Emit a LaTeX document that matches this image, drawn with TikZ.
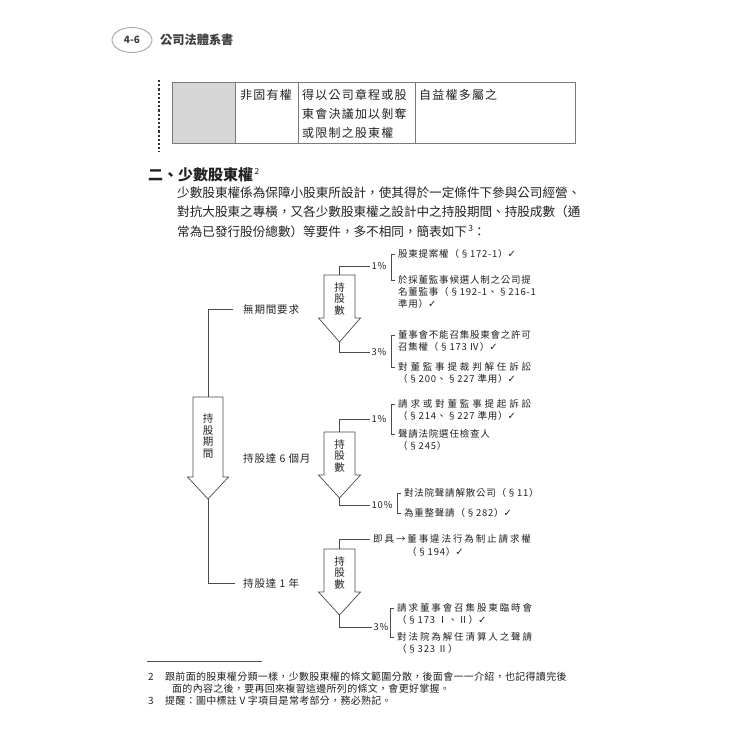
\documentclass[tikz,border=0pt]{standalone}
\usepackage{fontspec}
\setmainfont{Noto Sans CJK TC}
\newfontfamily\symfont{DejaVu Sans}
\newfontfamily\dgfont[LetterSpace=8]{Noto Sans CJK TC}
\newfontfamily\dgmid[LetterSpace=20]{Noto Sans CJK TC}
\newfontfamily\dgwide[LetterSpace=30]{Noto Sans CJK TC}
\newfontfamily\tabfont[LetterSpace=10]{Noto Sans CJK TC}
\newfontfamily\notefont[LetterSpace=3]{Noto Sans CJK TC}
\usepackage{tikz}
\usetikzlibrary{positioning,shapes.geometric}
\definecolor{inkgray}{HTML}{222222}
\definecolor{linegray}{HTML}{4A4A4A}
\definecolor{tablegray}{HTML}{7A7A7A}
\definecolor{cellgray}{HTML}{D6D6D6}
\newcommand{\chk}{{\symfont\fontsize{10}{8}\selectfont ✓}}
\newcommand{\notemark}[1]{\raisebox{0.8ex}{\mdseries\fontsize{8.5}{8.5}\selectfont\,#1}}
\newcommand{\fatarrow}[7]{%
  \draw[fatline] (#2-#6,#3) -- (#2+#6,#3) -- (#2+#6,#4) -- (#2+#7,#4)
    -- (#2,#5) -- (#2-#7,#4) -- (#2-#6,#4) -- cycle;
  \coordinate (#1-top) at (#2,#3);
  \coordinate (#1-tip) at (#2,#5);
}
\newcommand{\itembracket}[2]{%
  \draw[bracketline] ([xshift=-3pt,yshift=-5pt]#1.north west) -- ++(-4pt,0)
    |- ([xshift=-3pt,yshift=-5pt]#2.north west);
}
\tikzset{
  diagtext/.style={inner sep=0pt,text=inkgray,font=\dgfont\fontsize{9.5}{12}\selectfont},
  itembox/.style={diagtext,anchor=north west,align=left},
  periodlabel/.style={diagtext,anchor=west,font=\dgfont\fontsize{10.5}{12}\selectfont},
  pctlabel/.style={diagtext,anchor=west,inner xsep=1.5pt},
  stacktext/.style={diagtext,align=center,font=\dgfont\fontsize{10.5}{11.5}\selectfont},
  fatline/.style={draw=linegray,line width=0.7pt,fill=white},
  connline/.style={draw=linegray,line width=0.6pt},
  bracketline/.style={draw=linegray,line width=0.6pt},
  tabletext/.style={inner sep=0pt,text=inkgray,anchor=north west,align=left,
    font=\tabfont\fontsize{12}{19}\selectfont},
  bodytext/.style={inner sep=0pt,text=inkgray,anchor=north west,align=left,
    font=\fontsize{12.6}{19.5}\selectfont},
  notetext/.style={inner sep=0pt,text=inkgray,anchor=west,
    font=\notefont\fontsize{10}{12}\selectfont}
}
\begin{document}
\begin{tikzpicture}[x=1pt,y=-1pt]
  \fill[white] (0,0) rectangle (750,750);
  \useasboundingbox (0,0) rectangle (750,750);

  \node[draw=black!35,ellipse,line width=0.9pt,minimum width=40pt,minimum height=25pt,
    inner sep=0pt,text=black!75,font=\bfseries\fontsize{10}{10}\selectfont] (pagenum) at (132,40) {4-6};
  \node[anchor=west,inner sep=0pt,text=black!75,font=\bfseries\fontsize{12.2}{14}\selectfont]
    (booktitle) at (160,40) {公司法體系書};

  \draw[black!80,line width=1.6pt,dash pattern=on 2.2pt off 2pt] (159,80) -- (159,152);
  \fill[cellgray] (172,82) rectangle (235,143);
  \draw[tablegray,line width=0.9pt] (172,82) rectangle (575,143);
  \foreach \x in {235,298,415}
    \draw[tablegray,line width=0.9pt] (\x,82) -- (\x,143);
  \node[tabletext] (cellkind) at (240,89) {非固有權};
  \node[tabletext] (cellrule) at (302,89) {得以公司章程或股\\東會決議加以剝奪\\或限制之股東權};
  \node[tabletext] (cellnote) at (419,89) {自益權多屬之};

  \node[anchor=west,inner sep=0pt,text=inkgray,font=\bfseries\fontsize{15}{18}\selectfont]
    (sectitle) at (148,175) {二、少數股東權\notemark{2}};
  \node[bodytext] (intro) at (177,186.5) {少數股東權係為保障小股東所設計，使其得於一定條件下參與公司經營、\\
    對抗大股東之專橫，又各少數股東權之設計中之持股期間、持股成數（通\\
    常為已發行股份總數）等要件，多不相同，簡表如下\notemark{3}：};

  \fatarrow{bigarrow}{208}{397}{477}{499}{15}{20.5}
  \node[stacktext] (period) at (208,436) {持\\股\\期\\間};
  \node[periodlabel] (noreq) at (243,309) {無期間要求};
  \node[periodlabel] (sixmonth) at (243,459) {持股達 6 個月};
  \node[periodlabel] (oneyear) at (243,583) {持股達 1 年};
  \draw[connline] (bigarrow-top) |- ([xshift=-10pt]noreq.west);
  \draw[connline] (bigarrow-tip) |- ([xshift=-8pt]oneyear.west);

  \fatarrow{holda}{339.5}{275}{318}{342}{15.5}{21}
  \node[stacktext] (sharesa) at (339.5,299) {持\\股\\數};
  \node[pctlabel] (a1pct) at (370,266) {1\%};
  \node[pctlabel] (a3pct) at (370,352) {3\%};
  \draw[connline] (holda-top) |- (a1pct.west);
  \draw[connline] (holda-tip) |- (a3pct.west);
  \node[itembox] (a1) at (398,249) {股東提案權（§172-1）\chk};
  \node[itembox] (a2) at (398,275) {於採董監事候選人制之公司提\\名董監事（§192-1、§216-1\\準用）\chk};
  \node[itembox] (a3) at (398,330) {董事會不能召集股東會之許可\\召集權（§173 Ⅳ）\chk};
  \node[itembox] (a4) at (398,362) {{\dgwide 對董監事提裁判解任訴訟}\\（§200、§227 準用）\chk};
  \itembracket{a1}{a2}
  \itembracket{a3}{a4}

  \fatarrow{holdb}{339.5}{432}{475}{498}{15.5}{21}
  \node[stacktext] (sharesb) at (339.5,456) {持\\股\\數};
  \node[pctlabel] (b1pct) at (370,419) {1\%};
  \node[pctlabel] (b10pct) at (370,505) {10\%};
  \draw[connline] (holdb-top) |- (b1pct.west);
  \draw[connline] (holdb-tip) |- (b10pct.west);
  \node[itembox] (b1) at (398,399) {{\dgwide 請求或對董監事提起訴訟}\\（§214、§227 準用）\chk};
  \node[itembox] (b2) at (398,429) {聲請法院選任檢查人\\（§245）};
  \node[itembox] (b3) at (404,488) {對法院聲請解散公司（§11）};
  \node[itembox] (b4) at (404,508) {為重整聲請（§282）\chk};
  \itembracket{b1}{b2}
  \itembracket{b3}{b4}

  \fatarrow{holdc}{339.5}{549}{592}{615}{15.5}{21}
  \node[stacktext] (sharesc) at (339.5,573) {持\\股\\數};
  \node[diagtext,anchor=west,font=\dgmid\fontsize{9.5}{12}\selectfont] (c1) at (373,539) {即具→董事違法行為制止請求權};
  \node[diagtext,anchor=west] (c1sec) at (407,552) {（§194）\chk};
  \node[pctlabel] (c3pct) at (372,627) {3\%};
  \draw[connline] (holdc-top) |- ([xshift=-3pt]c1.west);
  \draw[connline] (holdc-tip) |- (c3pct.west);
  \node[itembox] (c2) at (397,603) {{\dgmid 請求董事會召集股東臨時會}\\（§173 Ⅰ、Ⅱ）\chk};
  \node[itembox] (c3) at (397,632) {{\dgmid 對法院為解任清算人之聲請}\\（§323 Ⅱ）};
  \itembracket{c2}{c3}

  \draw[black!70,line width=0.6pt] (147,661) -- (262,661);
  \node[notetext] (note2num) at (148,677) {2};
  \node[notetext] (note2) at (165,677) {跟前面的股東權分類一樣，少數股東權的條文範圍分散，後面會一一介紹，也記得讀完後};
  \node[notetext] (note2b) at (172,689) {面的內容之後，要再回來複習這邊所列的條文，會更好掌握。};
  \node[notetext] (note3num) at (148,701) {3};
  \node[notetext] (note3) at (165,701) {提醒：圖中標註 V 字項目是常考部分，務必熟記。};
\end{tikzpicture}
\end{document}
